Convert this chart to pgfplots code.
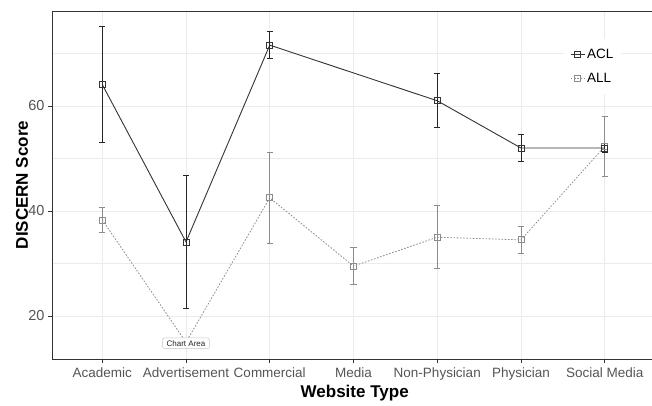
\documentclass[border=0pt]{standalone}
\usepackage{fontspec}
\setmainfont{Liberation Sans}
\usepackage{pgfplots}
\usepackage{pgfplotstable}
\pgfplotsset{compat=1.18}
\definecolor{aclc}{HTML}{333333}
\definecolor{allc}{HTML}{8C8C8C}
\definecolor{gridc}{HTML}{EBEBEB}
\definecolor{tickc}{HTML}{555555}

\pgfplotstableread{
x y e
0 64.1 11.1
1 34.1 12.6
2 71.6 2.55
4 61.0 5.15
5 52.0 2.5
6 52.0 0.8
}\acl

\pgfplotstableread{
x y e
0 38.3 2.4
1 15.0 0
2 42.5 8.6
3 29.5 3.5
4 35.0 6.0
5 34.5 2.55
6 52.3 5.8
}\all

\begin{document}
\begin{tikzpicture}[x=1pt,y=1pt]
\useasboundingbox (-52,-46) rectangle (600,359);
\begin{axis}[
  at={(0,0)}, anchor=south west,
  scale only axis, width=603pt, height=348pt,
  xmin=-0.6, xmax=6.6, ymin=11.8, ymax=78.1,
  axis x line*=box, axis y line*=left,
  axis line style={aclc, line width=0.8pt},
  xtick={0,...,6},
  xticklabels={Academic,Advertisement,Commercial,Media,Non-Physician,Physician,Social Media},
  ytick={20,40,60}, minor ytick={30,50,70},
  xmajorgrids, ymajorgrids, yminorgrids,
  major grid style={gridc, line width=0.9pt},
  minor grid style={gridc, line width=0.5pt},
  tick align=outside, xtick pos=left, ytick pos=left,
  major tick length=4pt, minor tick length=0pt,
  tick style={aclc, line width=0.7pt},
  /pgf/number format/assume math mode=true,
  ticklabel style={font=\fontsize{13.5}{15}\selectfont, text=tickc},
  yticklabel style={font=\fontsize{14.5}{15}\selectfont},
  xticklabel style={yshift=-1pt},
  xlabel={Website Type}, ylabel={DISCERN Score},
  every axis x label/.style={at={(axis description cs:0.502,-0.0977)}, anchor=center,
     font=\fontsize{17}{19}\selectfont\bfseries},
  every axis y label/.style={at={(axis description cs:-0.0498,0.5)}, rotate=90, anchor=center,
     font=\fontsize{17}{19}\selectfont\bfseries},
  reverse legend,
  legend style={at={(0.897,0.84)}, anchor=center, draw=none, fill=white,
    font=\fontsize{13.5}{15}\selectfont, row sep=9pt, inner xsep=6pt, inner ysep=8pt,
    /tikz/every even column/.append style={column sep=4pt}},
  legend cell align=left,
  legend image code/.code={\draw[mark repeat=2,mark phase=2] plot coordinates {(0pt,0pt)(7pt,0pt)(14pt,0pt)};},
]
\addplot[allc, line width=0.8pt, dash pattern=on 1.6pt off 1.6pt,
  mark=square, mark size=3pt, mark options={solid, allc, line width=0.8pt},
  error bars/.cd, y dir=both, y explicit,
  error bar style={solid, allc, line width=0.8pt},
  error mark options={rotate=90, allc, mark size=3.2pt, line width=0.8pt}]
  table[x=x, y=y, y error=e] {\all};
\addlegendentry{ALL}
\addplot[aclc, line width=0.9pt,
  mark=square, mark size=3pt, mark options={solid, aclc, line width=0.8pt},
  error bars/.cd, y dir=both, y explicit,
  error bar style={solid, black!85, line width=0.8pt},
  error mark options={rotate=90, black!85, mark size=3.2pt, line width=0.8pt}]
  table[x=x, y=y, y error=e] {\acl};
\addlegendentry{ACL}
\coordinate (ca) at (axis cs:1,14.8);
\end{axis}
\node[draw=gray!45, fill=white, rounded corners=1.5pt, inner xsep=4pt, inner ysep=2.5pt,
  font=\fontsize{8}{9}\selectfont, text=black!85] at (ca) {Chart Area};
\end{tikzpicture}
\end{document}
